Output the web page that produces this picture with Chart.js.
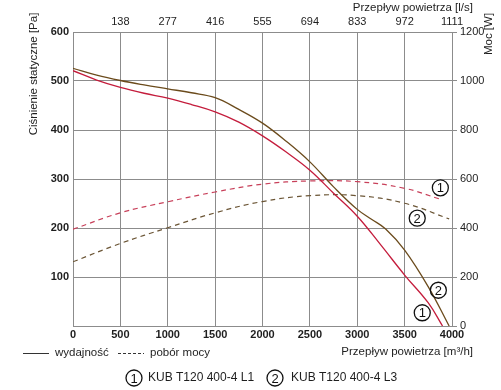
<!DOCTYPE html>
<html>
<head>
<meta charset="utf-8">
<script src="https://cdn.jsdelivr.net/npm/chart.js@4"></script>
<style>
  html, body { margin: 0; padding: 0; background: #fff; }
  #wrap { width: 501px; height: 390px; }
</style>
</head>
<body>
<div id="wrap"><canvas id="fanChart" width="501" height="390"></canvas></div>
<script>
// airflow [m3/h] vs static pressure [Pa] (solid) and power [W] (dashed)
const flowL1 = [0, 250, 500, 750, 1000, 1250, 1500, 1750, 2000, 2250, 2500, 2750, 3000, 3250, 3500, 3750, 3900];
const pressureL1 = [521, 502, 487, 475, 465, 452, 437, 416, 388, 355, 318, 271, 224, 165, 104, 47, 0];

const flowL3 = [0, 250, 500, 750, 1000, 1250, 1500, 1750, 2000, 2250, 2500, 2750, 3000, 3150, 3300, 3500, 3750, 3970];
const pressureL3 = [526, 512, 501, 492, 484, 476, 466, 442, 414, 377, 335, 284, 238, 218, 198, 155, 80, 0];

const powerFlowL1 = [0, 500, 1000, 1500, 2000, 2500, 3000, 3500, 3880];
const powerL1 = [395, 462, 507, 547, 579, 592, 589, 562, 517];

const powerFlowL3 = [0, 500, 1000, 1500, 2000, 2500, 3000, 3500, 3970];
const powerL3 = [262, 337, 401, 462, 508, 532, 532, 501, 437];

// top axis tick labels in l/s (same positions as 500..4000 m3/h)
const flowLsTicks = ['138', '277', '416', '555', '694', '833', '972', '1111'];

const modelNames = ['KUB T120 400-4 L1', 'KUB T120 400-4 L3'];

const GRID = '#8c8c8c';
const TEXT = '#1e1e1e';
const FONT = "'Liberation Sans', Arial, sans-serif";

function toPoints(xs, ys) {
  return xs.map((x, i) => ({ x: x, y: ys[i] }));
}

function drawCircleNum(ctx, cx, cy, num) {
  ctx.save();
  ctx.beginPath();
  ctx.arc(cx, cy, 8, 0, Math.PI * 2);
  ctx.strokeStyle = '#111';
  ctx.lineWidth = 1.3;
  ctx.stroke();
  ctx.fillStyle = '#111';
  ctx.font = '13px ' + FONT;
  ctx.textAlign = 'center';
  ctx.textBaseline = 'middle';
  ctx.fillText(num, cx, cy + 1);
  ctx.restore();
}

/*
*   Draws axis titles, curve tags and the two legend rows
*/
const overlayPlugin = {
  id: 'overlay',
  afterDraw(chart) {
    const ctx = chart.ctx;
    const x = chart.scales.x;
    const y = chart.scales.y;
    ctx.save();
    ctx.fillStyle = TEXT;
    ctx.font = '11.5px ' + FONT;

    // left title
    ctx.save();
    ctx.translate(34, 74);
    ctx.rotate(-Math.PI / 2);
    ctx.textAlign = 'center';
    ctx.textBaseline = 'middle';
    ctx.fillText('Ciśnienie statyczne [Pa]', 0, 0);
    ctx.restore();

    // right title
    ctx.save();
    ctx.translate(489, 34);
    ctx.rotate(-Math.PI / 2);
    ctx.textAlign = 'center';
    ctx.textBaseline = 'middle';
    ctx.fillText('Moc [W]', 0, 0);
    ctx.restore();

    // top / bottom titles
    ctx.textAlign = 'right';
    ctx.textBaseline = 'middle';
    ctx.fillText('Przepływ powietrza [l/s]', 473, 8);
    ctx.fillText('Przepływ powietrza [m³/h]', 473, 352);

    // curve tags, placed in data units
    const tags = [
      { num: '1', flow: 3877, pa: 282 },
      { num: '2', flow: 3633, pa: 220 },
      { num: '2', flow: 3856, pa: 73 },
      { num: '1', flow: 3686, pa: 27 }
    ];
    tags.forEach(t => drawCircleNum(ctx, x.getPixelForValue(t.flow), y.getPixelForValue(t.pa), t.num));

    // legend row 1
    ctx.font = '11.5px ' + FONT;
    ctx.textAlign = 'left';
    ctx.strokeStyle = '#333';
    ctx.lineWidth = 1;
    ctx.beginPath();
    ctx.moveTo(23, 353.5);
    ctx.lineTo(49, 353.5);
    ctx.stroke();
    ctx.fillText('wydajność', 55, 353);
    ctx.setLineDash([3, 2]);
    ctx.beginPath();
    ctx.moveTo(118, 353.5);
    ctx.lineTo(144, 353.5);
    ctx.stroke();
    ctx.setLineDash([]);
    ctx.fillText('pobór mocy', 150, 353);

    // legend row 2
    drawCircleNum(ctx, 134, 378, '1');
    ctx.fillStyle = TEXT;
    ctx.font = '12px ' + FONT;
    ctx.textAlign = 'left';
    ctx.textBaseline = 'middle';
    ctx.fillText(modelNames[0], 148, 378);
    drawCircleNum(ctx, 275, 378, '2');
    ctx.fillStyle = TEXT;
    ctx.font = '12px ' + FONT;
    ctx.textAlign = 'left';
    ctx.textBaseline = 'middle';
    ctx.fillText(modelNames[1], 291, 378);
    ctx.restore();
  }
};

const ctx = document.getElementById('fanChart').getContext('2d');

new Chart(ctx, {
  type: 'line',
  data: {
    datasets: [
      {
        label: 'L1 wydajność',
        data: toPoints(flowL1, pressureL1),
        borderColor: '#c41c3c',
        borderWidth: 1.3,
        yAxisID: 'y'
      },
      {
        label: 'L3 wydajność',
        data: toPoints(flowL3, pressureL3),
        borderColor: '#6b4b1c',
        borderWidth: 1.3,
        yAxisID: 'y'
      },
      {
        label: 'L1 pobór mocy',
        data: toPoints(powerFlowL1, powerL1),
        borderColor: '#c8405a',
        borderWidth: 1.2,
        borderDash: [5, 4],
        yAxisID: 'y2'
      },
      {
        label: 'L3 pobór mocy',
        data: toPoints(powerFlowL3, powerL3),
        borderColor: '#6b5535',
        borderWidth: 1.2,
        borderDash: [5, 4],
        yAxisID: 'y2'
      }
    ]
  },
  options: {
    responsive: false,
    animation: false,
    devicePixelRatio: 1,
    layout: { padding: 0 },
    elements: {
      point: { radius: 0 },
      line: { tension: 0.4, fill: false }
    },
    plugins: {
      legend: { display: false },
      tooltip: { enabled: false }
    },
    scales: {
      x: {
        type: 'linear',
        position: 'bottom',
        min: 0,
        max: 4000,
        ticks: {
          stepSize: 500,
          padding: 2,
          color: TEXT,
          font: { family: FONT, size: 11, weight: 'bold' },
          maxRotation: 0,
          callback: v => String(v)
        },
        grid: { color: GRID, drawTicks: false },
        border: { color: GRID },
        afterFit: s => { s.height = 64; }
      },
      x2: {
        type: 'linear',
        position: 'top',
        min: 0,
        max: 4000,
        ticks: {
          stepSize: 500,
          padding: 3,
          color: TEXT,
          font: { family: FONT, size: 11 },
          maxRotation: 0,
          callback: v => (v === 0 ? '' : flowLsTicks[v / 500 - 1])
        },
        grid: { drawOnChartArea: false, drawTicks: false },
        border: { color: GRID },
        afterFit: s => { s.height = 32; }
      },
      y: {
        position: 'left',
        min: 0,
        max: 600,
        ticks: {
          stepSize: 100,
          padding: 4,
          color: TEXT,
          font: { family: FONT, size: 11, weight: 'bold' },
          callback: v => (v === 0 ? '' : String(v))
        },
        grid: { color: GRID, drawTicks: false },
        border: { color: GRID },
        afterFit: s => { s.width = 73; }
      },
      y2: {
        position: 'right',
        min: 0,
        max: 1200,
        ticks: {
          stepSize: 200,
          padding: 3,
          color: TEXT,
          font: { family: FONT, size: 11 },
          callback: v => String(v)
        },
        grid: { drawOnChartArea: false, tickLength: 5, tickColor: GRID },
        border: { color: GRID },
        afterFit: s => { s.width = 49; }
      }
    }
  },
  plugins: [overlayPlugin]
});
</script>
</body>
</html>
